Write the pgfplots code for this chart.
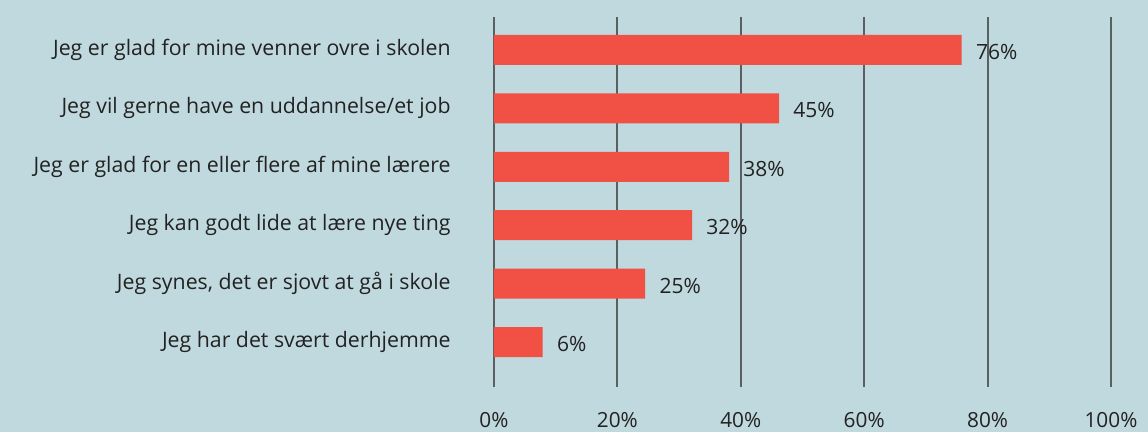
\documentclass[border=0pt]{standalone}
\usepackage{fontspec}
\setmainfont{Open Sans}
\usepackage{pgfplots}
\pgfplotsset{compat=1.18}

\definecolor{bgc}{HTML}{C0D9DE}
\definecolor{barc}{HTML}{F15045}
\definecolor{gridc}{HTML}{5A5F61}
\definecolor{txt}{HTML}{222222}

\begin{document}
\begin{tikzpicture}
% background, 1px = 0.5pt
\fill[bgc] (-247pt,-22.5pt) rectangle (327pt,193.5pt);
\begin{axis}[
    at={(0,0)}, anchor=south west,
    scale only axis,
    width=308.5pt, height=185pt,
    xmin=0, xmax=100,
    ymin=-0.77, ymax=5.565,
    xbar, bar width=15pt,
    axis line style={draw=none},
    major tick length=0pt,
    xtick={0,20,40,60,80,100},
    xticklabels={0\%,20\%,40\%,60\%,80\%,100\%},
    ytick={0,1,2,3,4,5},
    yticklabels={
        Jeg har det svært derhjemme,
        {Jeg synes, det er sjovt at gå i skole},
        Jeg kan godt lide at lære nye ting,
        Jeg er glad for en eller flere af mine lærere,
        Jeg vil gerne have en uddannelse/et job,
        Jeg er glad for mine venner ovre i skolen},
    xmajorgrids,
    grid style={draw=gridc, line width=1pt},
    tick label style={text=txt},
    xticklabel style={font=\fontsize{10.4}{12}\selectfont,
        inner sep=0pt, anchor=center, yshift=-16.5pt},
    yticklabel style={font=\fontsize{10.65}{12}\selectfont,
        inner sep=0pt, anchor=east, xshift=-21.5pt},
    nodes near coords,
    point meta=explicit symbolic,
    nodes near coords style={anchor=west, inner sep=0pt, xshift=7pt,
        yshift=-1pt, font=\fontsize{10.5}{12}\selectfont, text=txt},
    clip=false,
]
\addplot[fill=barc, draw=none] table[meta=lab] {
x    y  lab
7.9  0  6\%
24.5 1  25\%
32.1 2  32\%
38.1 3  38\%
46.2 4  45\%
75.8 5  76\%
};
\end{axis}
\end{tikzpicture}
\end{document}
